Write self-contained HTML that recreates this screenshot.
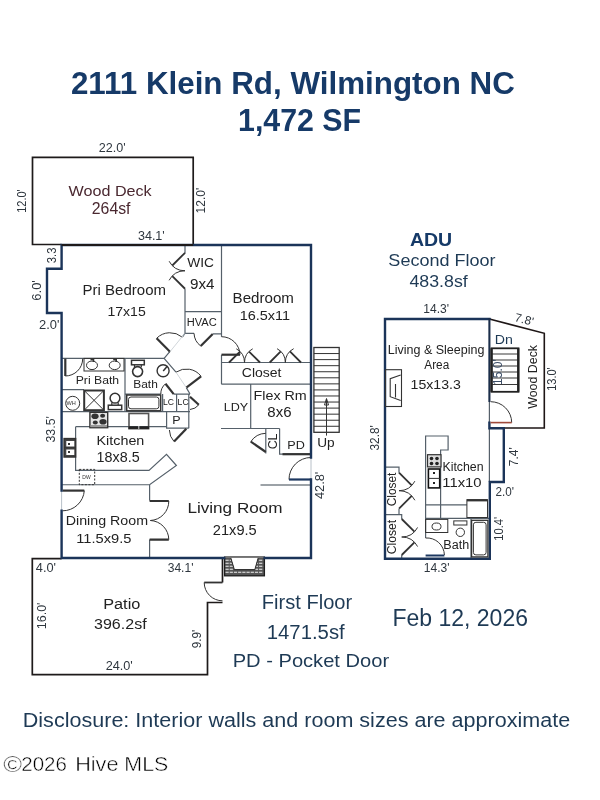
<!DOCTYPE html>
<html><head><meta charset="utf-8">
<style>
html,body{margin:0;padding:0;background:#fff;width:600px;height:800px;overflow:hidden}
svg{display:block;will-change:transform}
text{font-family:"Liberation Sans",sans-serif}
.i{stroke:#55606a;stroke-width:1.2;fill:none}
.w{stroke:#1b3459;stroke-width:2.4;fill:none;stroke-linecap:square}
.dk{stroke:#1e1a1a;stroke-width:1.7;fill:none}
.wm{stroke:#fff;stroke-width:0.45}
</style></head>
<body>
<svg width="600" height="800" viewBox="0 0 600 800">
<!-- DECK -->
<path class="dk" d="M61.6,244.5 H32.5 V157.3 H193.2 V244.5"/>


<!-- INTERIOR MAIN -->
<g class="i">
<!-- WIC / HVAC -->
<path d="M185,245 V253.3 M185,288.7 V333.3 H194 M212.7,333.8 H221.5 M221.5,245 V336.7 M221.5,354.7 V384.2 M185,311.7 H221.5"/>
<!-- closet & flex -->
<path d="M221.5,362.5 H311 M221.5,384.2 H311 M250.7,384.2 V428.5 M221,428.5 H279.6 M265.8,428.5 V453.5 M279.6,428.5 V454.2 H311"/>
<!-- hallway diagonals -->
<path d="M184.9,333.3 L182.7,336.7 M170,351.3 L164.1,358.4 M164.1,358.4 L176,372.2 M186.3,387.6 L190,394"/>
<!-- Pri bath / bath rows -->
<path d="M61.6,358.4 H164.1 M125,358.4 V411.6 M61.6,389.7 H84 M61.6,411.6 H190 M125,394.2 H160.8 M173.7,394.2 H190"/>
<!-- LC / P boxes -->
<path d="M162.6,394.1 V411.3 M176.6,394.1 V411.3 M188.8,394.1 V428.2 M166.6,411.3 V428.2 H188.8"/>
<!-- kitchen -->
<path d="M75.6,426.7 H166.6 M75.6,426.7 V470.4 H149 L166.5,454.4 L176.4,465.5 L149.6,484.75 H61.6 M149.6,484.75 V500.5 M149.6,539.6 V558"/>
<!-- living partial wall -->
<path d="M260.5,485 H311" stroke="#3a4650"/>
</g>


<!-- DOORS MAIN -->
<g fill="none" stroke="#333" stroke-width="1">
<!-- arcs -->
<path d="M156.6,338.3 A19,19 0 0 1 182.3,337.2"/>
<path d="M200.7,346 A17,17 0 0 1 194,333.3"/>
<path d="M240,354.7 A18.5,18.5 0 0 0 221.5,336.7"/>
<path d="M165.5,383.8 A13,13 0 0 0 160.8,394.1"/>
<path d="M201.1,376.3 A18.5,18.5 0 0 0 176,372.2"/>
<path d="M198.8,404.8 A12.5,12.5 0 0 1 190,409.5"/>
<path d="M174.1,441.6 A17,17 0 0 1 169.4,430"/>
<path d="M250.8,441.7 A18.5,18.5 0 0 1 265.8,433.3"/>
<path d="M289,479.5 A22,22 0 0 1 311,457.5"/>
<path d="M65.3,376 A17.4,17.4 0 0 0 82.7,358.7"/>
<path d="M84.3,490.6 A21.7,21.7 0 0 1 62.6,510.8"/>
<path d="M168.8,501 A19.3,19.3 0 0 1 150.3,520.5 M168.8,539.6 A19.3,19.3 0 0 0 150.3,520.5"/>
</g>
<g fill="none" stroke="#333" stroke-width="2.2" stroke-linecap="butt">
<path d="M170,351.7 L156.6,338.3"/>
<path d="M212.7,334 L200.7,346"/>
<path d="M221.5,354.7 H240"/>
<path d="M173.7,394.1 L165.5,383.8"/>
<path d="M186.3,387.6 L201.1,376.3"/>
<path d="M190,396.7 L198.8,404.8"/>
<path d="M186.3,428.7 L174.1,441.6"/>
<path d="M265.8,452 L250.8,441.7"/>
<path d="M282.5,454.2 H310"/>
<path d="M65.3,358.7 V376"/>
<path d="M62.6,490.6 H84.3"/>
<path d="M149.6,501 H168.8 M149.6,539.6 H168.8"/>
</g>
<path d="M311,479.5 H289" stroke="#1d3860" stroke-width="2.2" fill="none"/>
<path d="M185.00,252.80 L172.29,265.51 M185.00,288.75 L172.29,276.04" stroke="#333" stroke-width="1.8" fill="none"/><path d="M169.13,261.24 A17.97,17.97 0 0 0 185.00,270.77 M169.13,280.31 A17.97,17.97 0 0 1 185.00,270.77" stroke="#333" stroke-width="1" fill="none"/>
<path d="M229.00,362.50 L239.96,351.54 M260.00,362.50 L249.04,351.54" stroke="#333" stroke-width="1.8" fill="none"/><path d="M236.28,348.81 A15.50,15.50 0 0 1 244.50,362.50 M252.72,348.81 A15.50,15.50 0 0 0 244.50,362.50" stroke="#333" stroke-width="1" fill="none"/>
<path d="M269.70,362.50 L280.77,351.43 M301.00,362.50 L289.93,351.43" stroke="#333" stroke-width="1.8" fill="none"/><path d="M277.05,348.68 A15.65,15.65 0 0 1 285.35,362.50 M293.65,348.68 A15.65,15.65 0 0 0 285.35,362.50" stroke="#333" stroke-width="1" fill="none"/>
<path d="M399.00,472.70 L411.73,485.43 M399.00,508.70 L411.73,495.97" stroke="#333" stroke-width="1.8" fill="none"/><path d="M414.89,481.15 A18.00,18.00 0 0 1 399.00,490.70 M414.89,500.25 A18.00,18.00 0 0 0 399.00,490.70" stroke="#333" stroke-width="1" fill="none"/>
<path d="M401.70,519.00 L414.43,531.73 M401.70,555.00 L414.43,542.27" stroke="#333" stroke-width="1.8" fill="none"/><path d="M417.59,527.45 A18.00,18.00 0 0 1 401.70,537.00 M417.59,546.55 A18.00,18.00 0 0 0 401.70,537.00" stroke="#333" stroke-width="1" fill="none"/>

<!-- FIXTURES MAIN -->
<g fill="none" stroke="#333" stroke-width="1">
<rect x="84" y="358.4" width="40" height="12.6"/>
<ellipse cx="92" cy="365.3" rx="5.5" ry="4.3"/><ellipse cx="114.7" cy="365.3" rx="5.5" ry="4.3"/><path d="M90.5,359.5 H93.5 V362 M113.2,359.5 H116.2 V362" stroke-width="1.6"/>
<circle cx="72.7" cy="403.3" r="7"/>
<rect x="84.2" y="390.5" width="19.7" height="19.7" stroke-width="2"/>
<path d="M84.2,390.5 L103.9,410.2 M103.9,390.5 L84.2,410.2"/>
<circle cx="115" cy="398.2" r="4.9" stroke-width="1.5"/><path d="M111.8,402.5 V405 M118.2,402.5 V405" stroke-width="1.2"/><rect x="108.3" y="405.2" width="13.4" height="4.4" stroke-width="1.5"/>
<rect x="131.5" y="360.3" width="12.8" height="4.5" stroke-width="1.5"/><path d="M134.5,364.8 V367 M141.3,364.8 V367" stroke-width="1.2"/><circle cx="137.6" cy="371.6" r="5" stroke-width="1.6"/>
<circle cx="163.1" cy="370.8" r="6" stroke-width="1.4"/>
<path d="M163.2,371 L167.5,366" stroke-width="1.5"/>
<rect x="126.7" y="395" width="34" height="15.8" stroke-width="1.5"/>
<rect x="128.5" y="397" width="30.4" height="11.8" rx="2.5"/>
<rect x="89.9" y="412.3" width="17.8" height="15.4" stroke-width="1.4" fill="#e4e4e4"/><rect x="90.6" y="425" width="16.4" height="2.2" fill="#999" stroke="none"/>
<rect x="129" y="413.5" width="19.6" height="15.2" stroke="#555" stroke-width="1.6"/>
<path d="M128.5,427.6 H149.1" stroke="#222" stroke-width="2.6"/><path d="M138.8,426 V429" stroke="#fff" stroke-width="0.8"/>
<rect x="64.1" y="438.6" width="11.5" height="18.4" stroke-width="1.5" fill="#444"/><rect x="66.3" y="441" width="8" height="5.5" fill="#fff" stroke="none"/><rect x="66.3" y="449.5" width="8" height="5.5" fill="#fff" stroke="none"/>
<rect x="79.3" y="469.4" width="15.4" height="15.3" stroke-dasharray="2 1.5"/>
</g>
<g fill="#333">
<ellipse cx="95" cy="416.3" rx="3.6" ry="2.8"/><ellipse cx="102.6" cy="415.8" rx="2.5" ry="2"/>
<ellipse cx="95.3" cy="422.5" rx="2.5" ry="2"/><ellipse cx="103" cy="421.8" rx="3.6" ry="2.8"/>
<rect x="68" y="443" width="2" height="2"/><rect x="68" y="451" width="2" height="2"/>
</g>
<path d="M64.1,447.8 H75.6" stroke="#333" stroke-width="1"/>


<!-- STAIRS MAIN -->
<g fill="none" stroke="#333" stroke-width="1">
<rect x="313.9" y="347.5" width="25.3" height="84.8" stroke-width="1.3"/>
<path d="M313.9,353.56 H339.2 M313.9,359.62 H339.2 M313.9,365.68 H339.2 M313.9,371.74 H339.2 M313.9,377.8 H339.2 M313.9,383.86 H339.2 M313.9,389.92 H339.2 M313.9,395.98 H339.2 M313.9,402.04 H339.2 M313.9,408.1 H339.2 M313.9,414.16 H339.2 M313.9,420.22 H339.2 M313.9,426.28 H339.2"/>
<path d="M326.5,435.6 V399 M324.5,405 L326.5,398.5 L328.5,405 Z"/>
</g>
<!-- FIREPLACE -->
<g>
<rect x="224.6" y="557" width="39.8" height="18.8" fill="#555" stroke="#1e1e1e" stroke-width="1.3"/>
<path d="M225.5,560.2 H263.4 M225.5,563.2 H263.4 M225.5,566.2 H263.4 M225.5,569.2 H263.4 M225.5,572.2 H263.4" stroke="#f0f0f0" stroke-width="1.1" stroke-dasharray="3.2 1"/>
<path d="M230.6,557.2 H258.4 L254.8,569.6 H234.4 Z" fill="#fff" stroke="#333" stroke-width="1.1"/>
<path d="M232.2,558 L235.5,569 M256.8,558 L253.6,569" stroke="#fff" stroke-width="0.8"/>
<path d="M224.2,557.1 H264.8" stroke="#888" stroke-width="1.4"/>
</g>
<!-- PATIO -->
<path class="dk" d="M61.6,558.6 H32.3 V674.7 H207.5 V602.5 H222.5 M222.5,582.5 V558.6"/>
<path d="M204.2,582.5 A18.3,18.3 0 0 0 222.5,600.8" fill="none" stroke="#333" stroke-width="1"/>
<path d="M204.2,582.5 H222.5" stroke="#333" stroke-width="1.8"/>

<path d="M170,351.7 L184.9,333.3 M176,372.2 L186.3,387.6" stroke="#c5cbd0" stroke-width="0.8"/>
<!-- MAIN HOUSE OUTER WALLS -->
<path d="M61.6,490 V511 M311,457 V480" stroke="#b8c0c8" stroke-width="1"/>
<path class="w" d="M61.6,268.7 V245 H311 V457.5 M311,479.5 V558 H264.6 M224.2,558 H61.6 V510.8 M61.6,490.6 V313 H47 V268.7 H61.6"/>

<path d="M61.6,244.9 H193.2" stroke="#1e1a1a" stroke-width="2"/>
<!-- ADU -->
<path d="M489.4,319 L544.3,333.3 V428 H489.4" fill="none" stroke="#1e1616" stroke-width="1.6"/>
<g class="i">
<path d="M489.4,428.2 V482 M489.4,402 V422.6"/>
<path d="M425.6,538 V436 H448.1 V450 H440.6 V518.4 M425.6,504.8 H466.9 M425.6,518.4 H489.8 M471,518.4 V558.8"/>
<path d="M385,467.2 H399 V472.7 M399,508.7 V514.7 M385,514.7 H401.7 V519 M401.7,555 V558.8"/>
</g>
<path class="w" d="M489.4,319 H385 V558.8 H489.8 V482 H503.8 V428.2 H489.4 V422.6"/>
<path d="M489.4,402 V318" stroke="#1b2e4a" stroke-width="2.1" fill="none"/>
<!-- ADU stairs -->
<g fill="none" stroke="#333" stroke-width="1">
<rect x="491.5" y="348.3" width="27" height="43.5" stroke="#222" stroke-width="1.8"/>
<path d="M491.5,354 H518.5 M491.5,360 H518.5 M491.5,366 H518.5 M491.5,372 H518.5 M491.5,378 H518.5 M491.5,384.5 H518.5" stroke="#3a3a3a" stroke-width="1.1"/>
</g>
<path d="M491.6,348.3 V391.8 M518.2,348.3 V391.8" stroke="#222" stroke-width="2.2"/>
<!-- ADU door -->
<path d="M490.7,401.7 A21,21 0 0 1 511.7,422.6" fill="none" stroke="#333" stroke-width="1"/>
<path d="M490.5,422.6 H511.7" stroke="#a04a3a" stroke-width="1.6"/>
<!-- ADU fireplace -->
<g fill="none" stroke="#333" stroke-width="1.1">
<rect x="385.5" y="369.7" width="16" height="36.8"/>
<path d="M400.7,375 L390.2,378.7 V396.7 L400.7,400.5 M395.5,384 V397.5"/>
</g>
<!-- ADU kitchen fixtures -->
<g fill="none" stroke="#333" stroke-width="1">
<rect x="427.5" y="454.7" width="13.5" height="12.2" fill="#ddd" stroke-width="1.2"/>
<rect x="428.4" y="469" width="11.3" height="18.9" stroke="#111" stroke-width="1.6"/>
<path d="M428.4,478.4 H439.7"/>
<rect x="466.9" y="499.7" width="20.6" height="17.8"/>
<path d="M466.9,500.3 H487.5" stroke-width="2.2"/>
<rect x="425.6" y="519.4" width="22.2" height="13.1"/>
<ellipse cx="436.5" cy="526.5" rx="4.5" ry="3.5"/>
<rect x="453.8" y="520.9" width="13.1" height="4.1"/>
<circle cx="460.3" cy="532.3" r="4.2"/>
<rect x="471.6" y="520.3" width="16.3" height="36.6" stroke-width="1.3"/>
<rect x="473.4" y="522.3" width="12.7" height="32.6" rx="2.5"/>
<path d="M425.6,538 A17.5,17.5 0 0 1 444.4,555"/>
</g>
<path d="M425.6,555.5 H444.4" stroke="#1d3860" stroke-width="2"/>
<g fill="#222">
<circle cx="431.5" cy="458.5" r="1.8"/><circle cx="437" cy="458.5" r="1.8"/>
<circle cx="431.5" cy="463.5" r="1.8"/><circle cx="437" cy="463.5" r="1.8"/>
<rect x="433" y="472" width="2" height="2"/><rect x="433" y="482" width="2" height="2"/>
</g>


<text x="70.90" y="94.00" font-size="31" font-weight="bold" fill="#163a68" textLength="443.88" lengthAdjust="spacingAndGlyphs">2111 Klein Rd, Wilmington NC</text>
<text x="238.03" y="131.00" font-size="31" font-weight="bold" fill="#163a68" textLength="123.13" lengthAdjust="spacingAndGlyphs">1,472 SF</text>
<text x="98.87" y="151.50" font-size="12" fill="#2e363e" textLength="26.91" lengthAdjust="spacingAndGlyphs">22.0'</text>
<text transform="translate(26.00,212.82) rotate(-90)" x="0" y="0" font-size="12" fill="#2e363e" textLength="23.51" lengthAdjust="spacingAndGlyphs">12.0'</text>
<text transform="translate(205.00,213.40) rotate(-90)" x="0" y="0" font-size="12" fill="#2e363e" textLength="25.65" lengthAdjust="spacingAndGlyphs">12.0'</text>
<text x="68.53" y="195.50" font-size="15.4" fill="#4a2830" textLength="83.18" lengthAdjust="spacingAndGlyphs">Wood Deck</text>
<text x="91.81" y="214.40" font-size="15.8" fill="#4a2830" textLength="38.73" lengthAdjust="spacingAndGlyphs">264sf</text>
<text x="137.90" y="240.00" font-size="12" fill="#2e363e" textLength="26.89" lengthAdjust="spacingAndGlyphs">34.1'</text>
<text transform="translate(56.30,263.15) rotate(-90)" x="0" y="0" font-size="12" fill="#2e363e" textLength="15.66" lengthAdjust="spacingAndGlyphs">3.3</text>
<text transform="translate(41.30,300.65) rotate(-90)" x="0" y="0" font-size="12" fill="#2e363e" textLength="20.44" lengthAdjust="spacingAndGlyphs">6.0'</text>
<text x="39.05" y="328.70" font-size="12" fill="#2e363e" textLength="20.44" lengthAdjust="spacingAndGlyphs">2.0'</text>
<text transform="translate(55.25,442.49) rotate(-90)" x="0" y="0" font-size="12.5" fill="#2e363e" textLength="26.36" lengthAdjust="spacingAndGlyphs">33.5'</text>
<text transform="translate(324.00,499.07) rotate(-90)" x="0" y="0" font-size="12.5" fill="#2e363e" textLength="27.37" lengthAdjust="spacingAndGlyphs">42.8'</text>
<text x="82.55" y="294.75" font-size="14" fill="#222" textLength="83.47" lengthAdjust="spacingAndGlyphs">Pri Bedroom</text>
<text x="107.45" y="315.80" font-size="13" fill="#222" textLength="38.31" lengthAdjust="spacingAndGlyphs">17x15</text>
<text x="187.18" y="267.30" font-size="12" fill="#222" textLength="26.73" lengthAdjust="spacingAndGlyphs">WIC</text>
<text x="190.02" y="288.70" font-size="14" fill="#222" textLength="24.47" lengthAdjust="spacingAndGlyphs">9x4</text>
<text x="186.81" y="325.60" font-size="10" fill="#222" textLength="29.98" lengthAdjust="spacingAndGlyphs">HVAC</text>
<text x="232.59" y="302.80" font-size="14" fill="#222" textLength="61.33" lengthAdjust="spacingAndGlyphs">Bedroom</text>
<text x="239.72" y="320.00" font-size="13.5" fill="#222" textLength="50.40" lengthAdjust="spacingAndGlyphs">16.5x11</text>
<text x="241.80" y="376.70" font-size="13" fill="#222" textLength="39.63" lengthAdjust="spacingAndGlyphs">Closet</text>
<text x="253.56" y="400.00" font-size="13" fill="#222" textLength="53.20" lengthAdjust="spacingAndGlyphs">Flex Rm</text>
<text x="267.32" y="416.70" font-size="14" fill="#222" textLength="24.19" lengthAdjust="spacingAndGlyphs">8x6</text>
<text x="223.70" y="410.80" font-size="11.5" fill="#222" textLength="24.43" lengthAdjust="spacingAndGlyphs">LDY</text>
<text x="287.29" y="448.70" font-size="11" fill="#222" textLength="17.53" lengthAdjust="spacingAndGlyphs">PD</text>
<text x="317.18" y="446.60" font-size="13.3" fill="#222" textLength="17.41" lengthAdjust="spacingAndGlyphs">Up</text>
<text x="75.72" y="384.40" font-size="11" fill="#222" textLength="43.40" lengthAdjust="spacingAndGlyphs">Pri Bath</text>
<text x="133.25" y="387.50" font-size="11" fill="#222" textLength="24.56" lengthAdjust="spacingAndGlyphs">Bath</text>
<text x="163.06" y="405.40" font-size="9" fill="#222" textLength="11.01" lengthAdjust="spacingAndGlyphs">LC</text>
<text x="177.61" y="405.40" font-size="9" fill="#222" textLength="11.07" lengthAdjust="spacingAndGlyphs">LC</text>
<text x="172.30" y="424.20" font-size="10.5" fill="#222" textLength="8.35" lengthAdjust="spacingAndGlyphs">P</text>
<text x="96.55" y="445.10" font-size="13.7" fill="#222" textLength="47.79" lengthAdjust="spacingAndGlyphs">Kitchen</text>
<text x="96.63" y="461.80" font-size="14" fill="#222" textLength="42.98" lengthAdjust="spacingAndGlyphs">18x8.5</text>
<text x="65.76" y="524.80" font-size="12.7" fill="#222" textLength="82.34" lengthAdjust="spacingAndGlyphs">Dining Room</text>
<text x="76.20" y="542.80" font-size="13" fill="#222" textLength="55.22" lengthAdjust="spacingAndGlyphs">11.5x9.5</text>
<text x="187.43" y="512.90" font-size="14.5" fill="#222" textLength="95.14" lengthAdjust="spacingAndGlyphs">Living Room</text>
<text x="212.87" y="534.90" font-size="14" fill="#222" textLength="43.85" lengthAdjust="spacingAndGlyphs">21x9.5</text>
<text transform="translate(276.70,449.32) rotate(-90)" x="0" y="0" font-size="12" fill="#222" textLength="15.83" lengthAdjust="spacingAndGlyphs">CL</text>
<text x="167.72" y="571.80" font-size="12" fill="#2e363e" textLength="25.73" lengthAdjust="spacingAndGlyphs">34.1'</text>
<text x="35.88" y="571.70" font-size="12" fill="#2e363e" textLength="20.20" lengthAdjust="spacingAndGlyphs">4.0'</text>
<text transform="translate(45.80,629.24) rotate(-90)" x="0" y="0" font-size="12.5" fill="#2e363e" textLength="26.72" lengthAdjust="spacingAndGlyphs">16.0'</text>
<text transform="translate(201.00,648.22) rotate(-90)" x="0" y="0" font-size="12" fill="#2e363e" textLength="18.44" lengthAdjust="spacingAndGlyphs">9.9'</text>
<text x="105.67" y="669.60" font-size="12" fill="#2e363e" textLength="27.12" lengthAdjust="spacingAndGlyphs">24.0'</text>
<text x="103.20" y="609.40" font-size="14" fill="#222" textLength="37.15" lengthAdjust="spacingAndGlyphs">Patio</text>
<text x="94.06" y="629.20" font-size="14" fill="#222" textLength="52.57" lengthAdjust="spacingAndGlyphs">396.2sf</text>
<text x="409.91" y="245.60" font-size="19" font-weight="bold" fill="#163a68" textLength="42.29" lengthAdjust="spacingAndGlyphs">ADU</text>
<text x="388.39" y="265.60" font-size="16.5" fill="#1e3a55" textLength="107.13" lengthAdjust="spacingAndGlyphs">Second Floor</text>
<text x="409.46" y="287.30" font-size="17.4" fill="#1e3a55" textLength="58.26" lengthAdjust="spacingAndGlyphs">483.8sf</text>
<text x="423.30" y="312.50" font-size="12" fill="#2e363e" textLength="25.75" lengthAdjust="spacingAndGlyphs">14.3'</text>
<text transform="translate(523.2,323.4) rotate(14.4)" font-size="12" fill="#2e363e" text-anchor="middle">7.8'</text>
<text transform="translate(556.00,390.82) rotate(-90)" x="0" y="0" font-size="12.5" fill="#2e363e" textLength="23.51" lengthAdjust="spacingAndGlyphs">13.0'</text>
<text transform="translate(379.00,450.47) rotate(-90)" x="0" y="0" font-size="12.5" fill="#2e363e" textLength="25.21" lengthAdjust="spacingAndGlyphs">32.8'</text>
<text transform="translate(517.50,466.15) rotate(-90)" x="0" y="0" font-size="12.5" fill="#2e363e" textLength="18.88" lengthAdjust="spacingAndGlyphs">7.4'</text>
<text x="495.41" y="496.00" font-size="12" fill="#2e363e" textLength="18.50" lengthAdjust="spacingAndGlyphs">2.0'</text>
<text transform="translate(502.50,540.84) rotate(-90)" x="0" y="0" font-size="12.5" fill="#2e363e" textLength="24.04" lengthAdjust="spacingAndGlyphs">10.4'</text>
<text x="423.80" y="572.00" font-size="12" fill="#2e363e" textLength="25.75" lengthAdjust="spacingAndGlyphs">14.3'</text>
<text transform="translate(502.00,384.90) rotate(-90)" x="0" y="0" font-size="12" fill="#3b4d66" textLength="25.65" lengthAdjust="spacingAndGlyphs">15.0'</text>
<text x="387.70" y="354.25" font-size="12" fill="#222" textLength="96.75" lengthAdjust="spacingAndGlyphs">Living &amp; Sleeping</text>
<text x="424.34" y="368.90" font-size="12" fill="#222" textLength="24.89" lengthAdjust="spacingAndGlyphs">Area</text>
<text x="410.54" y="388.50" font-size="13" fill="#222" textLength="50.28" lengthAdjust="spacingAndGlyphs">15x13.3</text>
<text x="494.87" y="343.60" font-size="12.5" fill="#1e3a55" textLength="18.10" lengthAdjust="spacingAndGlyphs">Dn</text>
<text transform="translate(537.00,408.74) rotate(-90)" x="0" y="0" font-size="12" fill="#222" textLength="63.75" lengthAdjust="spacingAndGlyphs">Wood Deck</text>
<text x="442.41" y="471.00" font-size="12" fill="#222" textLength="41.20" lengthAdjust="spacingAndGlyphs">Kitchen</text>
<text x="442.29" y="486.60" font-size="13" fill="#222" textLength="39.31" lengthAdjust="spacingAndGlyphs">11x10</text>
<text x="443.39" y="549.40" font-size="12" fill="#222" textLength="25.85" lengthAdjust="spacingAndGlyphs">Bath</text>
<text transform="translate(396.00,506.29) rotate(-90)" x="0" y="0" font-size="12" fill="#222" textLength="33.71" lengthAdjust="spacingAndGlyphs">Closet</text>
<text transform="translate(396.00,554.31) rotate(-90)" x="0" y="0" font-size="12" fill="#222" textLength="34.42" lengthAdjust="spacingAndGlyphs">Closet</text>
<text x="66.6" y="405.4" font-size="5.6" fill="#333">WH</text>
<text x="82.3" y="479.2" font-size="5" fill="#333">DW</text>
<text x="261.79" y="608.50" font-size="19.5" fill="#1e3a55" textLength="90.41" lengthAdjust="spacingAndGlyphs">First Floor</text>
<text x="266.78" y="638.80" font-size="19.5" fill="#1e3a55" textLength="77.95" lengthAdjust="spacingAndGlyphs">1471.5sf</text>
<text x="232.69" y="667.20" font-size="18.5" fill="#1e3a55" textLength="156.42" lengthAdjust="spacingAndGlyphs">PD - Pocket Door</text>
<text x="392.41" y="625.50" font-size="23" fill="#1e3a55" textLength="135.60" lengthAdjust="spacingAndGlyphs">Feb 12, 2026</text>
<text x="22.78" y="726.70" font-size="20" fill="#1e3a55" textLength="547.39" lengthAdjust="spacingAndGlyphs">Disclosure: Interior walls and room sizes are approximate</text>
<text x="3.37" y="771.50" font-size="21.4" fill="#000" textLength="18.76" lengthAdjust="spacingAndGlyphs" class="wm">©</text>
<text x="21.27" y="770.70" font-size="19.5" fill="#000" textLength="45.64" lengthAdjust="spacingAndGlyphs" class="wm">2026</text>
<text x="75.17" y="770.70" font-size="19.5" fill="#000" textLength="43.32" lengthAdjust="spacingAndGlyphs" class="wm">Hive</text>
<text x="124.39" y="770.70" font-size="19.5" fill="#000" textLength="43.90" lengthAdjust="spacingAndGlyphs" class="wm">MLS</text>
</svg>
</body></html>
